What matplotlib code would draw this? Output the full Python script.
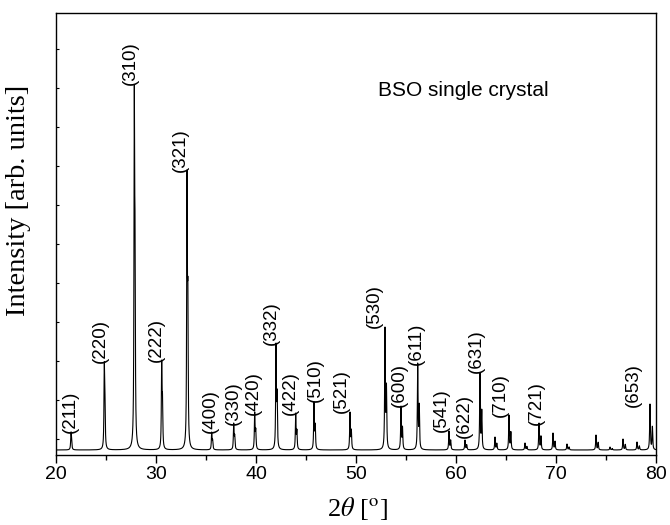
import numpy as np
import matplotlib
matplotlib.use("Agg")
import matplotlib.pyplot as plt

# ---- data (2theta in degrees, intensity in arb. units) ----
peak_pos = [21.50, 24.83, 27.83, 30.57, 33.10, 35.57, 37.77, 39.87, 42.00, 43.97,
            45.80, 49.40, 52.90, 54.50, 56.17, 59.30, 60.90, 62.40, 63.90, 65.30,
            66.90, 68.30, 69.70, 71.10, 74.00, 75.40, 76.70, 78.10, 79.40]
peak_int = [18, 88, 365, 90, 280, 18, 27, 38, 107, 37,
            48, 38, 123, 44, 87, 19, 10, 77, 13, 35,
            7, 27, 17, 6, 15, 3, 11, 8, 46]

label_hkl = ["(211)", "(220)", "(310)", "(222)", "(321)", "(400)", "(330)", "(420)",
             "(332)", "(422)", "(510)", "(521)", "(530)", "(600)", "(611)", "(541)",
             "(622)", "(631)", "(710)", "(721)", "(653)"]
label_x = [21.48, 24.48, 27.48, 30.07, 32.40, 35.43, 37.73, 39.73, 41.53, 43.40,
           45.98, 48.57, 51.87, 54.30, 56.07, 58.57, 60.84, 62.07, 64.48, 68.07, 77.73]
label_y = [17, 87, 365, 88, 278, 17, 25, 35, 105, 35,
           48, 37, 122, 43, 85, 18, 12, 77, 33, 25, 43]

# ---- build the diffraction profile (Ka1 + Ka2 doublet, pseudo-Voigt shape) ----
two_theta = np.arange(20.0, 80.0001, 0.005)
lam_ratio = 1.54443 / 1.54056
fwhm = 0.08
eta = 0.85


def pvoigt(x, x0):
    d = (x - x0) / (fwhm / 2.0)
    return eta / (1.0 + d ** 2) + (1 - eta) * np.exp(-np.log(2) * d ** 2)


pos = np.array(peak_pos)
ka2 = 2.0 * np.degrees(np.arcsin(lam_ratio * np.sin(np.radians(pos / 2.0))))


def unit_profile(x, i):
    return pvoigt(x, pos[i]) + 0.5 * pvoigt(x, ka2[i])


# amplitudes chosen so that the summed curve reaches the read heights at the peaks
A = np.array([[unit_profile(pos[j], i) for i in range(len(pos))] for j in range(len(pos))])
amp = np.linalg.solve(A, np.array(peak_int, dtype=float))

intensity = np.zeros_like(two_theta)
for i in range(len(pos)):
    intensity += amp[i] * unit_profile(two_theta, i)

# ---- figure ----
plt.rcParams["font.family"] = ["Liberation Sans", "DejaVu Sans"]
plt.rcParams["mathtext.fontset"] = "stix"

fig = plt.figure(figsize=(6.7, 5.25), dpi=100)
ax = fig.add_axes([56 / 670, 70 / 525, 600 / 670, 442 / 525])

ax.plot(two_theta, intensity, color="black", lw=0.8)

for t, x, y in zip(label_hkl, label_x, label_y):
    ax.text(x, y, t, rotation=90, ha="center", va="bottom", fontsize=13.5)

ax.text(52.2, 354, "BSO single crystal", fontsize=15, ha="left", va="baseline")

ax.set_xlim(20, 80)
ax.set_ylim(-5, 437)
ax.set_xticks(np.arange(20, 81, 10))
ax.set_xticks(np.arange(25, 80, 10), minor=True)
ax.set_yticks(np.arange(11, 437, 39))
ax.tick_params(axis="x", which="major", direction="out", length=6, width=1,
               labelsize=14, pad=2)
ax.tick_params(axis="x", which="minor", direction="out", length=3.5, width=1)
ax.tick_params(axis="y", which="major", direction="in", length=2.5, width=0.8,
               labelleft=False)
for s in ax.spines.values():
    s.set_linewidth(1.0)

fig.text(18.5 / 670, 1 - 200 / 525, "Intensity [arb. units]", rotation=90,
         ha="center", va="center", family="Liberation Serif", fontsize=20.5)
fig.text(357 / 670, 1 - 508 / 525, r"2$\theta$ [$^{\rm o}$]", ha="center",
         va="center", family="Liberation Serif", fontsize=19)

fig.savefig("out.png", dpi=100)
